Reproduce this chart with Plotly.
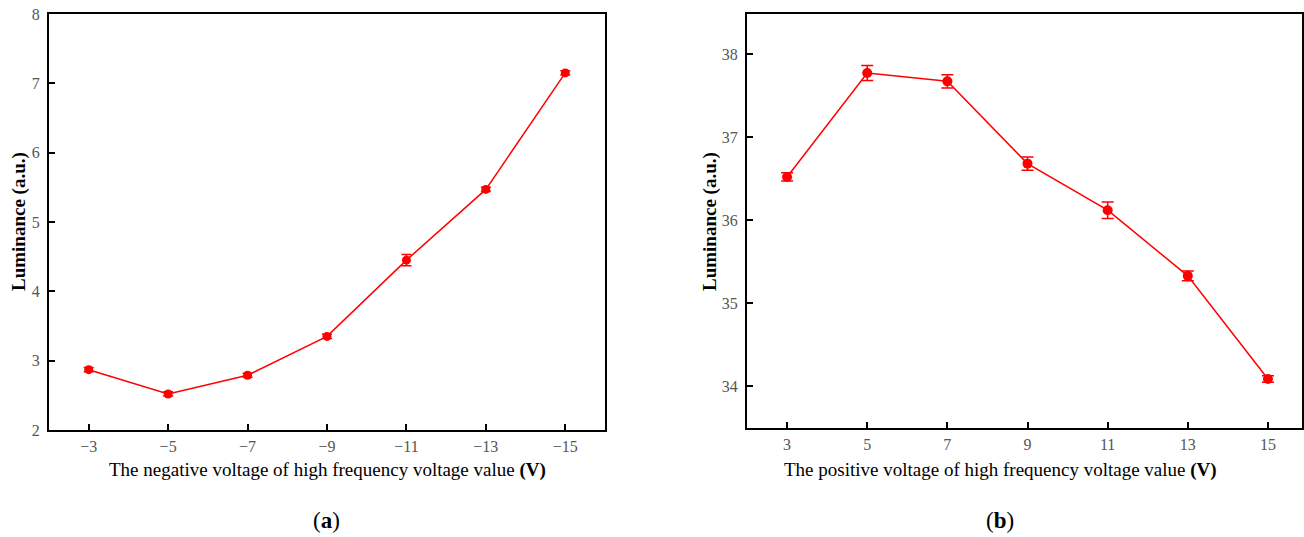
import plotly.graph_objects as go

# Panel (a): negative voltage
neg_v = [-3, -5, -7, -9, -11, -13, -15]
neg_lum = [2.87, 2.52, 2.79, 3.35, 4.45, 5.47, 7.15]
neg_err = [0.03, 0.03, 0.03, 0.03, 0.08, 0.03, 0.03]

# Panel (b): positive voltage
pos_v = [3, 5, 7, 9, 11, 13, 15]
pos_lum = [36.52, 37.77, 37.67, 36.68, 36.12, 35.33, 34.09]
pos_err = [0.05, 0.09, 0.08, 0.08, 0.10, 0.06, 0.04]

neg_ticks = [-3, -5, -7, -9, -11, -13, -15]
neg_ticktext = ["\u22123", "\u22125", "\u22127", "\u22129", "\u221211", "\u221213", "\u221215"]
pos_ticks = [3, 5, 7, 9, 11, 13, 15]
left_yticks = [2, 3, 4, 5, 6, 7, 8]
right_yticks = [34, 35, 36, 37, 38]

RED = "#ff0000"
FONT = "Liberation Serif"
TICKFONT = dict(family=FONT, size=16, color="#555555")

fig = go.Figure()
fig.add_trace(go.Scatter(
    x=neg_v, y=neg_lum, mode="lines+markers",
    line=dict(color=RED, width=1.5),
    marker=dict(color=RED, size=9, symbol="circle"),
    error_y=dict(type="data", array=neg_err, color=RED, thickness=1.5, width=5),
    xaxis="x", yaxis="y", showlegend=False))
fig.add_trace(go.Scatter(
    x=pos_v, y=pos_lum, mode="lines+markers",
    line=dict(color=RED, width=1.5),
    marker=dict(color=RED, size=10, symbol="circle"),
    error_y=dict(type="data", array=pos_err, color=RED, thickness=1.5, width=6),
    xaxis="x2", yaxis="y2", showlegend=False))

axis_common = dict(showline=True, linecolor="black", linewidth=2, mirror=True,
                   ticks="inside", ticklen=6, tickwidth=2, tickcolor="black",
                   showgrid=False, zeroline=False, tickfont=TICKFONT,
                   automargin=False)

W, H = 1304, 537

def px(x):
    return x / W

def py(y):
    return 1 - y / H

fig.update_layout(
    width=W, height=H,
    margin=dict(l=0, r=0, t=0, b=0, autoexpand=False),
    paper_bgcolor="white", plot_bgcolor="white",
    xaxis=dict(domain=[px(49), px(605)], range=[-2, -16], anchor="y",
               tickvals=neg_ticks, ticktext=neg_ticktext, ticklabelstandoff=1,
               **axis_common),
    yaxis=dict(domain=[py(430), py(14)], range=[2, 8], anchor="x",
               tickvals=left_yticks, ticklabelstandoff=4, **axis_common),
    xaxis2=dict(domain=[px(747), px(1302)], range=[2, 15.85], anchor="y2",
                tickvals=pos_ticks, ticklabelstandoff=1, **axis_common),
    yaxis2=dict(domain=[py(428), py(14)], range=[33.5, 38.48], anchor="x2",
                tickvals=right_yticks, ticklabelstandoff=4, **axis_common),
)

ann_font = dict(family=FONT, size=19, color="black")
fig.add_annotation(x=px(327), y=py(470), xref="paper", yref="paper",
                   text="The negative voltage of high frequency voltage value <b>(V)</b>",
                   showarrow=False, font=ann_font, xanchor="center", yanchor="middle")
fig.add_annotation(x=px(1000), y=py(470), xref="paper", yref="paper",
                   text="The positive voltage of high frequency voltage value <b>(V)</b>",
                   showarrow=False, font=ann_font, xanchor="center", yanchor="middle")
fig.add_annotation(x=px(19), y=py(222), xref="paper", yref="paper",
                   text="<b>Luminance (a.u.)</b>", textangle=-90,
                   showarrow=False, font=ann_font, xanchor="center", yanchor="middle")
fig.add_annotation(x=px(710), y=py(222), xref="paper", yref="paper",
                   text="<b>Luminance (a.u.)</b>", textangle=-90,
                   showarrow=False, font=ann_font, xanchor="center", yanchor="middle")
fig.add_annotation(x=px(326), y=py(520), xref="paper", yref="paper",
                   text="(<b>a</b>)", showarrow=False,
                   font=dict(family=FONT, size=23, color="black"),
                   xanchor="center", yanchor="middle")
fig.add_annotation(x=px(1000), y=py(520), xref="paper", yref="paper",
                   text="(<b>b</b>)", showarrow=False,
                   font=dict(family=FONT, size=23, color="black"),
                   xanchor="center", yanchor="middle")

fig.write_html("out.html",
               config={"displayModeBar": False},
               post_script="document.body.style.margin='0';document.body.style.overflow='hidden';")
